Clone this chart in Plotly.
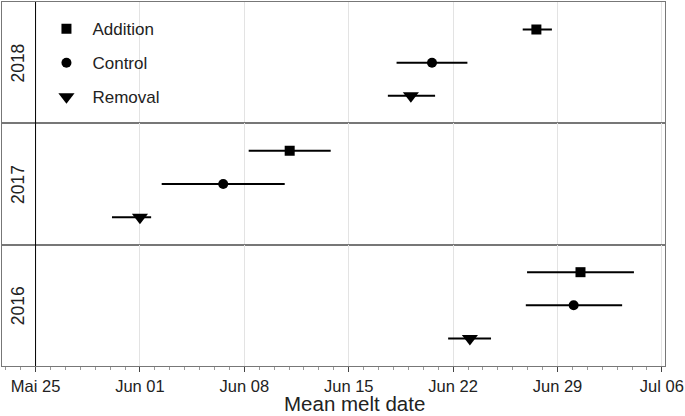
import pandas as pd
import plotly.graph_objects as go
from plotly.subplots import make_subplots

years = ["2018", "2017", "2016"]
treatments = ["Addition", "Control", "Removal"]
symbols = ["square", "circle", "triangle-down"]
marker_sizes = [10, 10, 14]

# mean melt date and interval bounds per year (rows follow treatments order)
mean_dates = {
    "2018": ["2000-06-27 14:00", "2000-06-20 14:00", "2000-06-19 04:00"],
    "2017": ["2000-06-11 01:00", "2000-06-06 14:00", "2000-06-01 00:00"],
    "2016": ["2000-06-30 13:00", "2000-06-30 02:00", "2000-06-23 03:00"],
}
low_dates = {
    "2018": ["2000-06-26 16:00", "2000-06-18 05:00", "2000-06-17 15:00"],
    "2017": ["2000-06-08 07:00", "2000-06-02 11:00", "2000-05-30 03:00"],
    "2016": ["2000-06-26 23:00", "2000-06-26 21:00", "2000-06-21 16:00"],
}
high_dates = {
    "2018": ["2000-06-28 15:00", "2000-06-22 23:00", "2000-06-20 19:00"],
    "2017": ["2000-06-13 19:00", "2000-06-10 17:00", "2000-06-01 18:00"],
    "2016": ["2000-07-04 03:00", "2000-07-03 08:00", "2000-06-24 13:00"],
}

tick_dates = ["2000-05-25", "2000-06-01", "2000-06-08", "2000-06-15",
              "2000-06-22", "2000-06-29", "2000-07-06"]
tick_labels = ["Mai 25", "Jun 01", "Jun 08", "Jun 15", "Jun 22", "Jun 29", "Jul 06"]
x_title = "Mean melt date"
x_start, x_end = "2000-05-22 18:00", "2000-07-06 05:00"

base = pd.Timestamp(tick_dates[0])


def days(s):
    return (pd.Timestamp(s) - base) / pd.Timedelta(days=1)


ypos = {"Addition": 3, "Control": 2, "Removal": 1}

fig = make_subplots(rows=3, cols=1, shared_xaxes=True, vertical_spacing=0)

for r, yr in enumerate(years, start=1):
    for i, tr in enumerate(treatments):
        m = days(mean_dates[yr][i])
        lo = days(low_dates[yr][i])
        hi = days(high_dates[yr][i])
        fig.add_trace(
            go.Scatter(
                x=[m], y=[ypos[tr]], mode="markers",
                marker=dict(symbol=symbols[i], size=marker_sizes[i], color="black"),
                error_x=dict(type="data", symmetric=False, array=[hi - m],
                             arrayminus=[m - lo], width=0, thickness=2, color="black"),
                name=tr, legendgroup=tr, showlegend=(r == 1),
            ),
            row=r, col=1,
        )
    fig.add_annotation(
        text=yr, textangle=-90, xref=f"x{'' if r == 1 else r} domain",
        yref=f"y{'' if r == 1 else r} domain", x=0.024, y=0.5,
        showarrow=False, font=dict(size=17.5, color="#222"),
        xanchor="center", yanchor="middle",
    )

tickvals = [days(t) for t in tick_dates]
for r in range(1, 4):
    fig.update_yaxes(range=[0.17, 3.83], showticklabels=False, ticks="",
                     showgrid=False, zeroline=False, showline=True, mirror=True,
                     linecolor="#777", linewidth=1, row=r, col=1)
    fig.update_xaxes(range=[days(x_start), days(x_end)], tickvals=tickvals,
                     ticktext=tick_labels, showgrid=True, gridcolor="#e3e3e3",
                     gridwidth=1, zeroline=False, showline=True, mirror=True,
                     linecolor="#777", linewidth=1, row=r, col=1)

fig.update_xaxes(ticks="outside", ticklen=5, tickcolor="#444",
                 minor=dict(dtick=1, tick0=0, ticks="outside", ticklen=3,
                            tickcolor="#999", showgrid=False),
                 tickfont=dict(size=16.5, color="#222"),
                 row=3, col=1)

# axis title, placed like the reference (slightly right of centre)
fig.add_annotation(text=x_title, xref="paper", yref="paper", x=0.532, y=-0.1374,
                   xanchor="center", yanchor="bottom", showarrow=False,
                   font=dict(size=20.5, color="#222"), borderpad=0)

fig.add_shape(type="line", xref="x", yref="paper", x0=tickvals[0], x1=tickvals[0],
              y0=0, y1=1, line=dict(color="black", width=1))

fig.update_layout(
    width=685, height=416,
    margin=dict(l=2, r=20, t=2, b=50),
    plot_bgcolor="white", paper_bgcolor="white",
    font=dict(family="Liberation Sans, Arial, sans-serif", color="#222"),
    legend=dict(x=0.058, y=0.975, xanchor="left", yanchor="top",
                bgcolor="rgba(0,0,0,0)", font=dict(size=17),
                tracegroupgap=9, itemwidth=42),
    showlegend=True,
)

fig.write_html("out.html", config={"displayModeBar": False},
               post_script="document.body.style.margin='0';")
